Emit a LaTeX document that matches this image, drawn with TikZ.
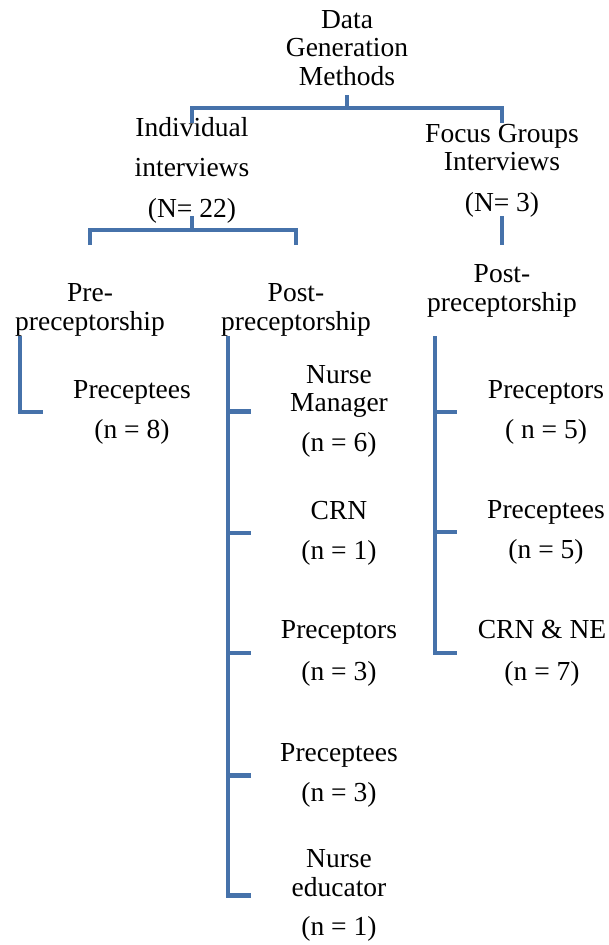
\documentclass[tikz,border=0pt]{standalone}
\usepackage{fontspec}
\setmainfont{Liberation Serif}
\usetikzlibrary{positioning}
\definecolor{branchblue}{RGB}{70,114,170}
\begin{document}
\begin{tikzpicture}[x=1pt,y=-1pt]
\tikzset{
	branch/.style={line width=4.5pt, color=branchblue},
	lbl/.style={align=center, inner sep=0pt, anchor=base, font=\fontsize{27.5}{28.3}\selectfont},
}
\useasboundingbox (0,0) rectangle (608,945);

 % les titres (base = derniere ligne)
  \node[lbl] (dgm) at (347,85) {Data\\Generation\\Methods};
  \node[lbl] (ind) at (192,217) {Individual\\[11.7pt]interviews\\[12.7pt](N= 22)};
  \node[lbl] (foc) at (502,211.7) {Focus Groups\\Interviews\\[12.7pt](N= 3)};
  \node[lbl] (pre) at (90,330) {Pre-\\preceptorship};
  \node[lbl] (posti) at (296,330) {Post-\\preceptorship};
  \node[lbl] (postf) at (502,311) {Post-\\preceptorship};

% les groupes
  \node[lbl] (ipre) at (132,438) {Preceptees\\[11.7pt](n = 8)};
  \node[lbl] (imgr) at (339,451.7) {Nurse\\Manager\\[11.7pt](n = 6)};
  \node[lbl] (icrn) at (339,559.3) {CRN\\[11.7pt](n = 1)};
  \node[lbl] (ipor) at (339,680) {Preceptors\\[13.7pt](n = 3)};
  \node[lbl] (ipee) at (339,801.7) {Preceptees\\[11.7pt](n = 3)};
  \node[lbl] (iedu) at (339,935) {Nurse\\educator\\[10.7pt](n = 1)};
  \node[lbl] (fpor) at (546,438) {Preceptors\\[11.7pt]( n = 5)};
  \node[lbl] (fpee) at (546,558) {Preceptees\\[11.7pt](n = 5)};
  \node[lbl] (fcrn) at (542,680) {CRN \& NE\\[13.7pt](n = 7)};

% les branches
  \coordinate (j0) at (347,108);
  \coordinate (j1) at (192,230);
  \draw[branch] (dgm.south |- 0,95) -- (j0);
  \draw[branch] (ind.north |- 0,123) |- (j0) -| (foc.north |- 0,123);
  \draw[branch] (ind.south |- 0,216) -- (j1);
  \draw[branch] (pre.north |- 0,245) |- (j1) -| (posti.north |- 0,245);
  \draw[branch] (foc.south |- 0,216) -- (postf.north |- 0,245);

  \coordinate (lspine) at (20,336);
  \coordinate (mspine) at (228,336);
  \coordinate (rspine) at (435,336);
  \draw[branch] (lspine) -- (lspine |- ipre.west) -- ++(23,0);
  \draw[branch] (mspine) -- (mspine |- iedu.west) -- ++(23,0);
  \draw[branch] (rspine) -- (rspine |- fcrn.west) -- ++(22,0);
  \foreach \n in {imgr,icrn,ipor,ipee}
    \draw[branch] (mspine |- \n.west) -- ++(23,0);
  \foreach \n in {fpor,fpee}
    \draw[branch] (rspine |- \n.west) -- ++(22,0);
\end{tikzpicture}
\end{document}
